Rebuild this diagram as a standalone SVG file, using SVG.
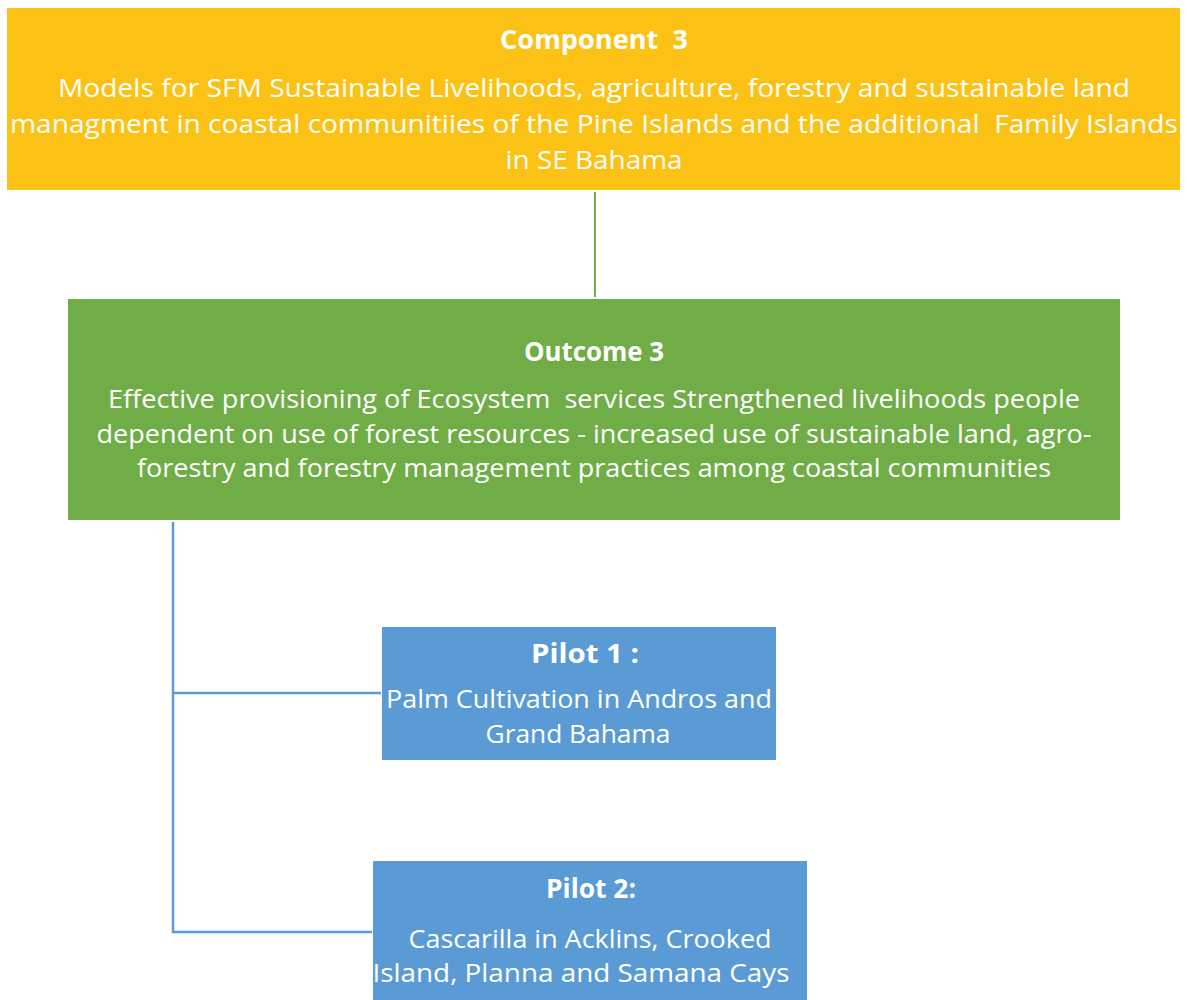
<svg xmlns="http://www.w3.org/2000/svg" width="1187" height="1000" viewBox="0 0 1187 1000">
<style>
text{font-family:"Open Sans","Noto Sans","Liberation Sans",sans-serif;fill:#fff;text-anchor:middle;white-space:pre;}
.t{font-size:26px;font-weight:bold;}
.b{font-size:26px;}
</style>
<rect width="1187" height="1000" fill="#fff"/>
<g id="connectors" fill="none">
<line x1="595" y1="192" x2="595" y2="297" stroke="#70AD47" stroke-width="2"/>
<polyline points="173,522 173,932 372,932" stroke="#5B9BD5" stroke-width="2.5"/>
<line x1="173" y1="693" x2="381" y2="693" stroke="#5B9BD5" stroke-width="2.5"/>
</g>
<g id="component3">
<rect x="7" y="8" width="1173" height="182" fill="#FCC115"/>
<text class="t" x="594" y="49" textLength="188" lengthAdjust="spacingAndGlyphs" xml:space="preserve">Component  3</text>
<text class="b" x="594" y="97" textLength="1072" lengthAdjust="spacingAndGlyphs">Models for SFM Sustainable Livelihoods, agriculture, forestry and sustainable land</text>
<text class="b" x="594" y="133" textLength="1168" lengthAdjust="spacingAndGlyphs" xml:space="preserve">managment in coastal communitiies of the Pine Islands and the additional  Family Islands</text>
<text class="b" x="594" y="169" textLength="177" lengthAdjust="spacingAndGlyphs">in SE Bahama</text>
</g>
<g id="outcome3">
<rect x="68" y="299" width="1052" height="221" fill="#70AD47"/>
<text class="t" x="594" y="361" textLength="140" lengthAdjust="spacingAndGlyphs">Outcome 3</text>
<text class="b" x="594" y="408" textLength="972" lengthAdjust="spacingAndGlyphs" xml:space="preserve">Effective provisioning of Ecosystem  services Strengthened livelihoods people</text>
<text class="b" x="594" y="443" textLength="995" lengthAdjust="spacingAndGlyphs">dependent on use of forest resources - increased use of sustainable land, agro-</text>
<text class="b" x="594" y="477" textLength="914" lengthAdjust="spacingAndGlyphs">forestry and forestry management practices among coastal communities</text>
</g>
<g id="pilot1">
<rect x="382" y="627" width="394" height="133" fill="#5B9BD5"/>
<text class="t" x="585" y="663" textLength="108" lengthAdjust="spacingAndGlyphs">Pilot 1 :</text>
<text class="b" x="579" y="708" textLength="386" lengthAdjust="spacingAndGlyphs">Palm Cultivation in Andros and</text>
<text class="b" x="578" y="743" textLength="185" lengthAdjust="spacingAndGlyphs">Grand Bahama</text>
</g>
<g id="pilot2">
<rect x="373" y="861" width="434" height="139" fill="#5B9BD5"/>
<text class="t" x="591" y="898" textLength="90" lengthAdjust="spacingAndGlyphs">Pilot 2:</text>
<text class="b" x="590" y="948" textLength="363" lengthAdjust="spacingAndGlyphs">Cascarilla in Acklins, Crooked</text>
<text class="b" x="581" y="982" textLength="417" lengthAdjust="spacingAndGlyphs">Island, Planna and Samana Cays</text>
</g>
</svg>
